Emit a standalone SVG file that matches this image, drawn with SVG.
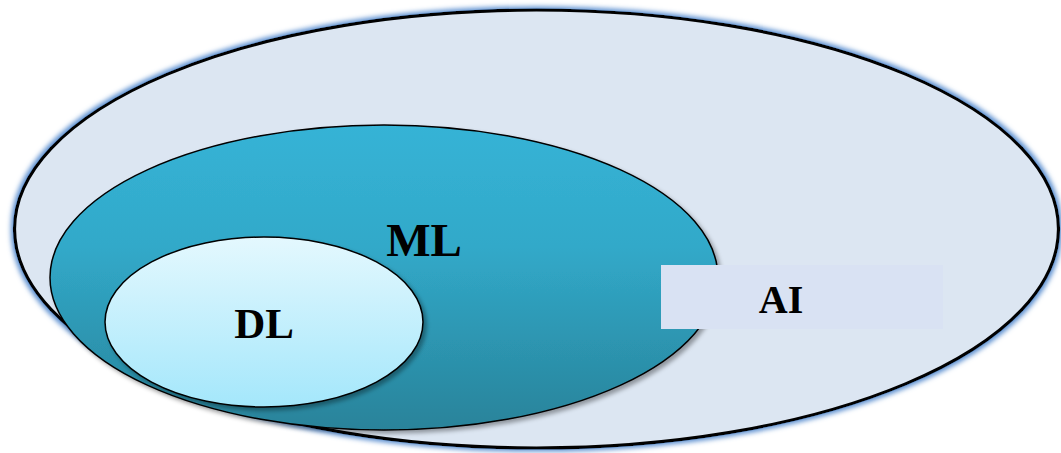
<svg xmlns="http://www.w3.org/2000/svg" width="1061" height="453" viewBox="0 0 1061 453">
<defs>
<linearGradient id="gML" x1="0" y1="0" x2="0" y2="1">
<stop offset="0" stop-color="#36b3d6"/>
<stop offset="0.4" stop-color="#31a9c9"/>
<stop offset="1" stop-color="#29839a"/>
</linearGradient>
<linearGradient id="gDL" x1="0" y1="0" x2="0" y2="1">
<stop offset="0" stop-color="#e4f8fe"/>
<stop offset="1" stop-color="#a4e7fb"/>
</linearGradient>
<filter id="glow" x="-5%" y="-5%" width="110%" height="110%">
<feMorphology in="SourceAlpha" operator="dilate" radius="2" result="d"/>
<feGaussianBlur in="d" stdDeviation="2.5" result="b"/>
<feFlood flood-color="#5b8fd0"/>
<feComposite in2="b" operator="in" result="g"/>
<feMerge><feMergeNode in="g"/><feMergeNode in="SourceGraphic"/></feMerge>
</filter>
<filter id="shadow" x="-5%" y="-5%" width="115%" height="115%">
<feGaussianBlur in="SourceAlpha" stdDeviation="2"/>
<feOffset dx="3" dy="3" result="o"/>
<feFlood flood-color="#000" flood-opacity="0.35"/>
<feComposite in2="o" operator="in" result="s"/>
<feMerge><feMergeNode in="s"/><feMergeNode in="SourceGraphic"/></feMerge>
</filter>
</defs>
<style>
.lbl{font-family:"Liberation Serif","Times New Roman",serif;font-weight:bold;fill:#000;text-anchor:middle}
</style>
<g id="AI">
<ellipse cx="536.5" cy="229" rx="522" ry="219" fill="#dce6f2" stroke="#000" stroke-width="3.2" filter="url(#glow)"/>
</g>
<g id="ML">
<ellipse cx="384" cy="277.5" rx="334" ry="152.5" fill="url(#gML)" stroke="#000" stroke-width="1.5" filter="url(#shadow)"/>
<text class="lbl" x="424" y="256" font-size="47">ML</text>
</g>
<g id="DL">
<ellipse cx="264" cy="322" rx="159" ry="85" fill="url(#gDL)" stroke="#000" stroke-width="1.5" filter="url(#shadow)"/>
<text class="lbl" x="264" y="338" font-size="43">DL</text>
</g>
<g id="AI-label">
<rect x="661" y="265" width="282" height="64" fill="#d9e2f3"/>
<text class="lbl" x="781" y="313" font-size="40">AI</text>
</g>
<g id="connectors"/>
</svg>
